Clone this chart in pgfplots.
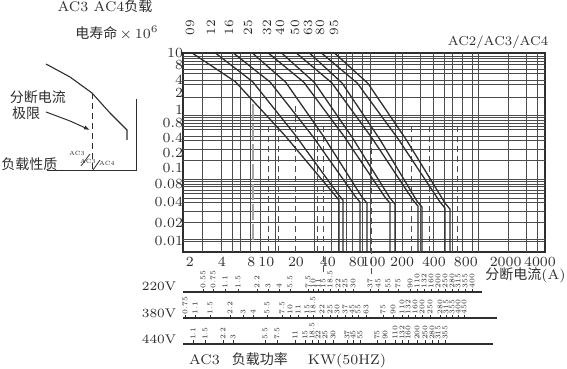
\documentclass[border=0pt]{standalone}
\usepackage{pgfplots}
\pgfplotsset{compat=1.18}
\usepackage{pgfplotstable}
\usepackage{fontspec}
\newfontfamily\cjk{Noto Sans CJK SC}
\usetikzlibrary{arrows.meta}

\definecolor{ink}{gray}{0.18}
\definecolor{gridc}{gray}{0.30}
\tikzset{fsize/.style={font=\fontsize{6.3}{7}\selectfont, text=ink, rotate=90}}

% AC3 power ratings along the three voltage scales (position, baseline, label)
\pgfplotstableread{
x y lab
203 -290.5 0.55
213 -290.5 0.75
225 -290.5 1.1
238 -290.5 1.5
257 -290.5 2.2
268 -290.5 3
279 -290.5 4
290 -290.5 5.5
308 -290.5 7.5
313 -290.5 10
318 -290.5 11
323 -290.5 15
330 -290.5 18.5
338 -290.5 22
345 -290.5 25
353 -290.5 30
370 -290.5 37
378 -290.5 45
388 -290.5 55
398 -290.5 75
410 -290.5 90
417 -290.5 110
424 -290.5 132
431 -290.5 160
438 -290.5 200
445 -290.5 250
452 -290.5 280
458 -290.5 315
465 -290.5 355
472 -290.5 400
}\kwA
\pgfplotstableread{
x y lab
185 -316.5 0.75
195 -316.5 1.1
210 -316.5 1.5
230 -316.5 2.2
243 -316.5 3
253 -316.5 4
267 -316.5 5.5
282 -316.5 7.5
290 -316.5 10
298 -316.5 11
307 -316.5 15
313 -316.5 18.5
322 -316.5 22
330 -316.5 25
337 -316.5 30
345 -316.5 37
352 -316.5 45
358 -316.5 55
366 -316.5 63
383 -316.5 75
393 -316.5 90
402 -316.5 110
408 -316.5 132
415 -316.5 160
422 -316.5 200
430 -316.5 250
440 -316.5 280
446 -316.5 315
452 -316.5 355
458 -316.5 400
464 -316.5 450
}\kwB
\pgfplotstableread{
x y lab
193 -342 1.1
205 -342 1.5
223 -342 2.2
233 -342 3
265 -342 5.5
277 -342 7.5
295 -342 11
305 -342 15
312 -342 18.5
318 -342 22
325 -342 25
333 -342 30
347 -342 37
353 -342 45
360 -342 55
377 -342 75
385 -342 90
395 -342 110
402 -342 132
408 -342 160
417 -342 200
425 -342 250
432 -342 280
438 -342 315
445 -342 355
}\kwC

\begin{document}
\begin{tikzpicture}
\useasboundingbox (0,0) rectangle (283.5pt,184.5pt);

% ---------- frame for titles, inset sketch and power scales ----------
\begin{axis}[
  at={(0,0)}, anchor=south west, scale only axis,
  width=283.5pt, height=184.5pt,
  xmin=0, xmax=567, ymin=-369, ymax=0,
  hide axis, clip=false,
  scale scales/.style={only marks, mark=|, mark size=0.8pt, ink,
    nodes near coords, point meta=explicit symbolic,
    nodes near coords align=horizontal,
    every node near coord/.style={rotate=90, anchor=west,
      font=\fontsize{3.6}{4}\selectfont, inner sep=0.8pt, text=ink}},
]
% titles
\node[font=\fontsize{7}{8}\selectfont, text=ink] at (axis cs:105,-6) {AC3 AC4{\cjk 负载}};
\node[font=\fontsize{7}{8}\selectfont, text=ink] at (axis cs:117,-33) {{\cjk 电寿命}\,$\times\,10^{6}$};

% inset sketch: breaking-current limit
\addplot[ink, line width=0.5pt] coordinates {(47,-171) (137,-171)};
\addplot[ink, line width=0.5pt] coordinates {(136,-99) (136,-171)};
\addplot[ink, line width=0.55pt] coordinates {(46,-64) (70,-77) (92,-93) (110,-113) (127,-130) (127,-140)};
\addplot[ink, line width=0.5pt, densely dashed] coordinates {(92,-93) (92,-170)};
\addplot[ink, line width=0.5pt, -{Latex[length=3pt,width=2.2pt]}] coordinates {(46,-112) (70,-121) (90,-130)};
\node[font=\cjk\fontsize{7}{8}\selectfont, text=ink] at (axis cs:38,-97) {分断电流};
\node[font=\cjk\fontsize{7}{8}\selectfont, text=ink] at (axis cs:26,-113) {极限};
\node[font=\cjk\fontsize{7}{8}\selectfont, text=ink, anchor=west, inner sep=0pt] at (axis cs:1,-164) {负载性质};
\node[font=\fontsize{3}{3}\selectfont, text=ink] at (axis cs:77,-153) {AC3};
\node[font=\fontsize{3}{3}\selectfont, text=ink] at (axis cs:88,-161) {AC3};
\node[font=\fontsize{3}{3}\selectfont, text=ink] at (axis cs:107,-163) {AC4};
\addplot[ink, line width=0.4pt] coordinates {(81,-166) (90,-154)};
\addplot[ink, line width=0.4pt] coordinates {(93,-170) (100,-160)};

% contactor frame sizes above the curves
\node[fsize] at (axis cs:190,-28) {09};
\node[fsize] at (axis cs:211,-28) {12};
\node[fsize] at (axis cs:229,-28) {16};
\node[fsize] at (axis cs:248,-28) {25};
\node[fsize] at (axis cs:267,-28) {32};
\node[fsize] at (axis cs:280,-28) {40};
\node[fsize] at (axis cs:295,-28) {50};
\node[fsize] at (axis cs:308,-28) {63};
\node[fsize] at (axis cs:320,-28) {80};
\node[fsize] at (axis cs:334,-28) {95};
\node[font=\fontsize{6.5}{7}\selectfont, text=ink] at (axis cs:498,-42) {AC2/AC3/AC4};
\node[font=\fontsize{7}{8}\selectfont, text=ink, anchor=east, inner sep=0pt] at (axis cs:566,-275) {{\cjk 分断电流}(A)};

% power scales at 220 V, 380 V and 440 V
\addplot[ink, line width=0.6pt] coordinates {(183,-292) (482,-292)};
\addplot[ink, line width=0.6pt] coordinates {(183,-318) (497,-318)};
\addplot[ink, line width=0.6pt] coordinates {(183,-344) (493,-344)};
\addplot[scale scales] table[meta=lab] {\kwA};
\addplot[scale scales] table[meta=lab] {\kwB};
\addplot[scale scales] table[meta=lab] {\kwC};
\node[font=\fontsize{6.3}{7}\selectfont, text=ink] at (axis cs:159,-286) {220V};
\node[font=\fontsize{6.3}{7}\selectfont, text=ink] at (axis cs:159,-313) {380V};
\node[font=\fontsize{6.3}{7}\selectfont, text=ink] at (axis cs:159,-339) {440V};
\node[font=\fontsize{7}{8}\selectfont, text=ink, anchor=west] at (axis cs:182,-360)
  {AC3\hspace{6pt}{\cjk 负载功率}\hspace{10pt}KW(50HZ)};
\end{axis}

% ---------- electrical life versus breaking current ----------
\begin{axis}[
  at={(91.5pt,58.5pt)}, anchor=south west, scale only axis,
  width=181pt, height=99.5pt,
  xmode=log, xmin=1.72, xmax=4460,
  ymin=0, ymax=199.5,
  clip=false,
  axis line style={ink, line width=0.8pt},
  major tick length=0pt,
  tick label style={font=\fontsize{7}{8}\selectfont, text=ink},
  xtick={2,4,7.6,10.5,20,40,75,108,200,400,800,1900,4000},
  xticklabels={2,4,8,10,20,40,80,100,200,400,800,2000,4000},
  ytick={199.5,187.5,173,160,143,129,114,99,84,68,50,29,11},
  yticklabels={10,8,4,2,1,0.8,0.4,0.2,0.1,0.08,0.04,0.02,0.01},
  xticklabel style={yshift=1pt},
  yticklabel style={xshift=1pt, inner sep=0.8pt},
  extra x ticks={2.65,4,5,6,7.4,9.2,12.7,30,43.7,50,60,67.5,84,100,172,200,300,400,500,600,736,915,1043,2000,3000,3757},
  extra x tick labels={},
  extra x tick style={grid=major, major grid style={gridc, line width=0.5pt}},
  extra y ticks={196,193.7,191.3,188,182.7,179.3,172,167.7,154.7,137,134.7,132,128.7,126,122.7,115.3,112,102.7,92,72.7,70.3,68,65.3,62,58.7,53.7,49.3,40.3,29.3,12.7,10.3},
  extra y tick labels={},
  extra y tick style={grid=major, major grid style={gridc, line width=0.5pt}},
  life/.style={ink, line width=0.65pt, line join=round},
  part/.style={gridc, line width=0.5pt, dash pattern=on 3pt off 2pt},
]
% partial dashed guides
\addplot[part] coordinates {(10.9,0) (10.9,127)};
\addplot[part] coordinates {(13.8,0) (13.8,127)};
\addplot[part] coordinates {(19.6,0) (19.6,150)};
\addplot[part] coordinates {(31.6,0) (31.6,127)};
\addplot[part] coordinates {(36,-20) (36,127)};
\addplot[part] coordinates {(104,-22) (104,127)};
\addplot[part] coordinates {(248,0) (248,127)};
\addplot[part] coordinates {(367,0) (367,127)};
\addplot[part] coordinates {(660,0) (660,127)};
\addplot[gray!70, line width=1pt, dash pattern=on 8pt off 2pt] coordinates {(7.9,12) (7.9,150)};
% life curves, frame sizes 09 ... 95
\addplot[life] coordinates {(2.13,199) (5.35,170.8) (15.6,117.2) (45.7,58) (50.9,52) (50.9,0)};
\addplot[life] coordinates {(3.52,199) (7.79,170.8) (19.7,117.2) (49.8,58) (55.5,52) (55.5,0)};
\addplot[life] coordinates {(5.20,199) (11.4,170.4) (28.7,116.1) (72.1,56) (80.4,50) (80.4,0)};
\addplot[life] coordinates {(7.85,199) (16.0,170.2) (36.6,115.5) (83.9,55) (93.5,49) (93.5,0)};
\addplot[life] coordinates {(11.1,199) (23.7,170.2) (57.2,115.5) (138,55) (154,49) (154,0)};
\addplot[life] coordinates {(14.8,199) (29.8,170) (67.8,114.9) (154,54) (172,48) (172,0)};
\addplot[life] coordinates {(20.4,199) (43.5,169.6) (105,113.7) (254,52) (283,46) (283,0)};
\addplot[life] coordinates {(27.1,199) (54.4,169.4) (123,113.2) (277,51) (309,45) (309,0)};
\addplot[life] coordinates {(35.2,199) (75.9,169.2) (186,112.6) (457,50) (509,44) (509,0)};
\addplot[life] coordinates {(46.7,199) (95.5,169) (221,112) (509,49) (567,43) (567,0)};
\end{axis}
\end{tikzpicture}
\end{document}
